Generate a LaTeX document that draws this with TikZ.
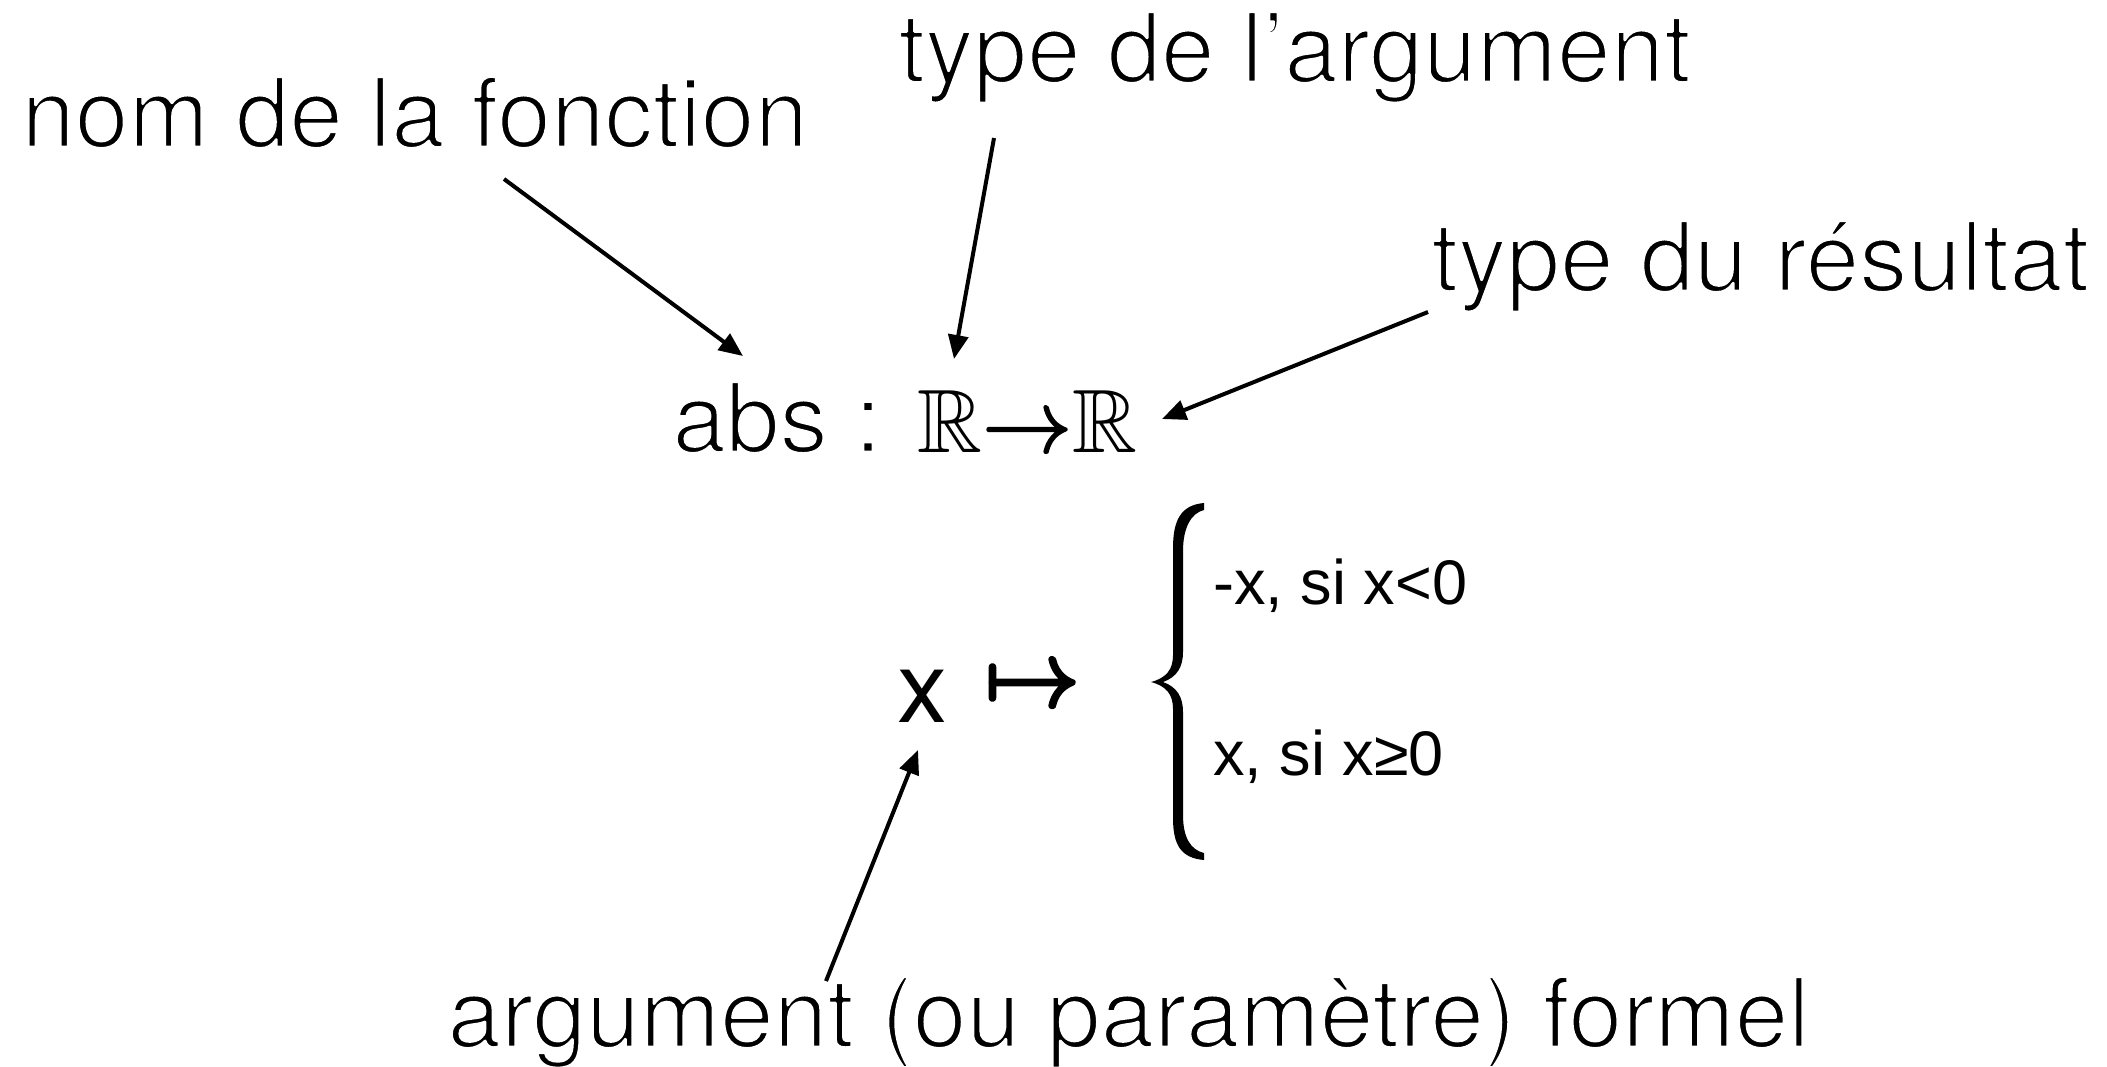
\RequirePackage{fix-cm}
\documentclass[tikz,border=0pt]{standalone}
\usepackage{amssymb}
\usepackage{fontspec}
\setmainfont{TeX Gyre Heros}
\newfontfamily\libsans{Liberation Sans}
\usetikzlibrary{arrows.meta}
% light weight look: stroke the glyph outlines in white
\newcommand\lt[1]{\special{pdf:literal direct 2 Tr 1.4 w 1 j 1 G}#1\special{pdf:literal direct 0 Tr 0 j 0 G}}
% heavier weight: stroke the glyph outlines in black
\newcommand\hv[2]{\special{pdf:literal direct 2 Tr #1 w 1 j 0 G}#2\special{pdf:literal direct 0 Tr 0 j 0 G}}
\begin{document}
\begin{tikzpicture}[x=0.5pt,y=-0.5pt,
  lbl/.style={inner sep=0pt, anchor=base west, font=\fontsize{48.2}{56}\selectfont},
  case/.style={inner sep=0pt, anchor=base west, font=\libsans\fontsize{31.5}{38}\selectfont},
  ptr/.style={line width=2pt, -{Triangle[length=12pt,width=10pt]}}
]
\useasboundingbox (0,0) rectangle (2107,1066);
% labels
\node[lbl] (nom) at (21,147) {\lt{nom de la fonction}};
\node[lbl] (targ) at (898,82) {\lt{type de l’argument}};
\node[lbl] (tres) at (1431,291) {\lt{type du résultat}};
\node[lbl] (arg) at (447,1047) {\lt{argument (ou paramètre) formel}};
% signature
\node[lbl] (sig) at (672,452) {\lt{abs :} {\fontsize{45}{50}\selectfont$\mathbb{R}$\hv{0.9}{$\rightarrow$}$\mathbb{R}$}};
% x maps to
\node[inner sep=0pt, anchor=base west, font=\fontsize{50}{60}\selectfont] (xv) at (897,722) {x};
\node[inner sep=0pt, anchor=base west, font=\fontsize{47}{56}\selectfont] (mt) at (985,706) {\hv{2}{$\mapsto$}};
% cases
\node[case] (c1) at (1213,604) {-x, si x<0};
\node[case] (c2) at (1213,775) {x, si x≥0};
\fill (1204,503) .. controls (1181,505) and (1173,520) .. (1173,548) -- (1173,655)
  .. controls (1173,670) and (1166,678) .. (1151,682)
  .. controls (1166,686) and (1173,694) .. (1173,709) -- (1173,818)
  .. controls (1173,845) and (1181,858) .. (1204,860) -- (1204,853)
  .. controls (1191,850) and (1183,838) .. (1183,815) -- (1183,712)
  .. controls (1183,697) and (1177,687) .. (1163,682)
  .. controls (1177,677) and (1183,667) .. (1183,652) -- (1183,551)
  .. controls (1183,528) and (1191,513) .. (1204,510) -- cycle;
% connectors
\coordinate (a1s) at (504,179); \coordinate (a1e) at (743,356);
\coordinate (a2s) at (994,138); \coordinate (a2e) at (954,359);
\coordinate (a3s) at (1428,312); \coordinate (a3e) at (1162,419);
\coordinate (a4s) at (826,981); \coordinate (a4e) at (918,750);
\draw[ptr] (a1s) -- (a1e);
\draw[ptr] (a2s) -- (a2e);
\draw[ptr] (a3s) -- (a3e);
\draw[ptr] (a4s) -- (a4e);
\end{tikzpicture}
\end{document}
